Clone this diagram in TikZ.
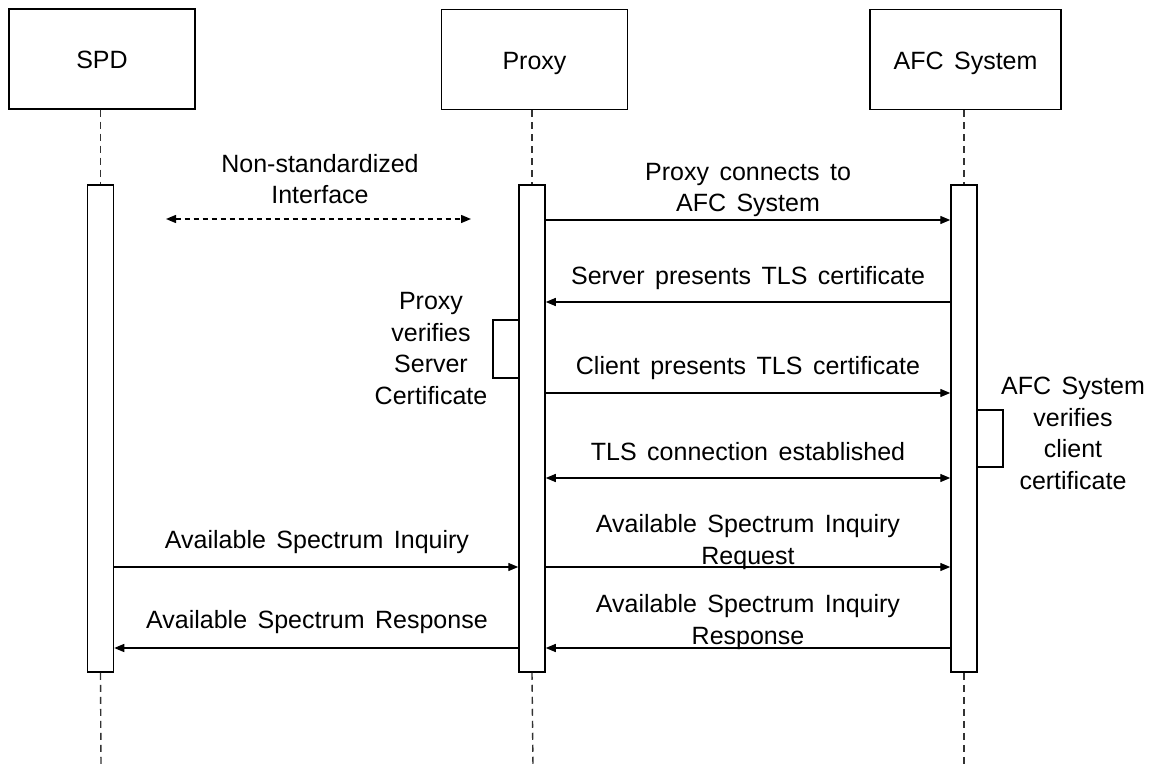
\documentclass[tikz,border=0pt]{standalone}
\usepackage{fontspec}
\setmainfont{Liberation Sans}
\usetikzlibrary{arrows.meta}
\newcommand\diagfont{\fontsize{25}{31.5}\selectfont\spaceskip 10.5pt plus 2pt minus 1pt\relax}
\begin{document}
\begin{tikzpicture}[x=1pt,y=-1pt,
  every node/.style={font=\diagfont},
  actor/.style={draw, line width=1.5pt, minimum height=100pt, inner sep=0pt, text height=24pt, text depth=4pt},
  bar/.style={draw, line width=1.5pt, fill=white, minimum width=26pt, minimum height=487pt, inner sep=0pt},
  life/.style={draw=black!80, line width=1.4pt, dash pattern=on 7pt off 5pt},
  msg/.style={line width=1.4pt, -{Triangle[length=10pt,width=8pt]}},
  both/.style={line width=1.4pt, {Triangle[length=10pt,width=8pt]}-{Triangle[length=10pt,width=8pt]}},
  lbl/.style={align=center, inner sep=0pt, anchor=base},
  loopbox/.style={line width=1.4pt},
]
\useasboundingbox (0,0) rectangle (1151,767);

% participants
\node[actor, minimum width=186pt] (spd) at (102,59) {SPD};
\node[actor, minimum width=186pt] (proxy) at (534.5,59.5) {Proxy};
\node[actor, minimum width=191pt] (afc) at (965.5,59.5) {AFC System};

% activation bars
\node[bar] (sbar) at (100.5,428.5) {};
\node[bar] (pbar) at (532,428.5) {};
\node[bar] (abar) at (964,428.5) {};

% lifelines
\coordinate (send) at (101,767);
\coordinate (pend) at (533,767);
\coordinate (aend) at (964,767);
\draw[life] (spd.south -| sbar.north) -- (sbar.north);
\draw[life] (sbar.south) -- (send);
\draw[life] (proxy.south -| pbar.north) -- (pbar.north);
\draw[life] (pbar.south) -- (pend);
\draw[life] (afc.south -| abar.north) -- (abar.north);
\draw[life] (abar.south) -- (aend);

% message levels
\coordinate (y1) at (0,220);
\coordinate (y2) at (0,302);
\coordinate (y3) at (0,393);
\coordinate (y4) at (0,478);
\coordinate (y5) at (0,567);
\coordinate (y6) at (0,648);

% non-standardized interface (multi-line labels sit on their last baseline)
\coordinate (ni1) at (166,219);
\coordinate (ni2) at (471,219);
\draw[line width=1.4pt, dash pattern=on 5pt off 4pt,
  {Triangle[length=10pt,width=8pt]}-{Triangle[length=10pt,width=8pt]}] (ni1) -- (ni2);
\node[lbl] (nitext) at (320,204) {Non-standardized\\Interface};

% proxy <-> AFC system
\draw[msg] (pbar.east |- y1) -- (abar.west |- y1);
\node[lbl] (m1) at (748,212) {Proxy connects to\\AFC System};

\draw[msg] (abar.west |- y2) -- (pbar.east |- y2);
\node[lbl] (m2) at (748,285) {Server presents TLS certificate};

\draw[msg] (pbar.east |- y3) -- (abar.west |- y3);
\node[lbl] (m3) at (748,374) {Client presents TLS certificate};

\draw[both] (pbar.east |- y4) -- (abar.west |- y4);
\node[lbl] (m4) at (748,460) {TLS connection established};

\draw[msg] (pbar.east |- y5) -- (abar.west |- y5);
\node[lbl] (m5) at (748,564) {Available Spectrum Inquiry\\Request};

\draw[msg] (abar.west |- y6) -- (pbar.east |- y6);
\node[lbl] (m6) at (748,644) {Available Spectrum Inquiry\\Response};

% SPD <-> proxy
\draw[msg] (sbar.east |- y5) -- (pbar.west |- y5);
\node[lbl] (m7) at (317,548) {Available Spectrum Inquiry};

\draw[msg] (pbar.west |- y6) -- (sbar.east |- y6);
\node[lbl] (m8) at (317,628) {Available Spectrum Response};

% self checks
\coordinate (pl1) at (493,320);
\coordinate (pl2) at (493,378);
\draw[loopbox] (pbar.west |- pl1) -- (pl1) -- (pl2) -- (pbar.west |- pl2);
\node[lbl] (pv) at (431,404) {Proxy\\verifies\\Server\\Certificate};

\coordinate (al1) at (1003,410);
\coordinate (al2) at (1003,467);
\draw[loopbox] (abar.east |- al1) -- (al1) -- (al2) -- (abar.east |- al2);
\node[lbl] (av) at (1073,489) {AFC System\\verifies\\client\\certificate};
\end{tikzpicture}
\end{document}
